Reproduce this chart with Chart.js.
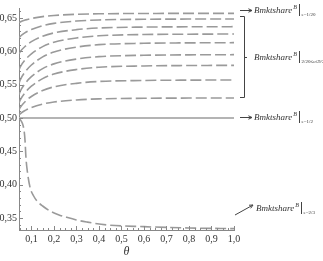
<!DOCTYPE html>
<html>
<head>
<meta charset="utf-8">
<script src="https://cdn.jsdelivr.net/npm/chart.js@4/dist/chart.umd.min.js"></script>
<style>
  html, body { margin: 0; padding: 0; background: #fff; }
  #wrap { width: 323px; height: 261px; }
</style>
</head>
<body>
<div id="wrap"><canvas id="c"></canvas></div>
<script>
const thetas = [0.045, 0.05, 0.075, 0.1, 0.15, 0.2, 0.3, 0.4, 0.6, 0.8, 1.0];

// upper family, e from 1/20 (top) down to 9/20
const curveE1 = [0.643, 0.6441, 0.6472, 0.6493, 0.6521, 0.6538, 0.6555, 0.6563, 0.6568, 0.6569, 0.657];
const curveE2 = [0.620, 0.6223, 0.6286, 0.6328, 0.6385, 0.6419, 0.6454, 0.6471, 0.6481, 0.6484, 0.6485];
const curveE3 = [0.596, 0.5993, 0.6083, 0.6145, 0.6227, 0.6276, 0.6325, 0.635, 0.6364, 0.6368, 0.637];
const curveE4 = [0.572, 0.5763, 0.5882, 0.5963, 0.6071, 0.6136, 0.6201, 0.6233, 0.6252, 0.6257, 0.626];
const curveE5 = [0.552, 0.5569, 0.5703, 0.5795, 0.5917, 0.599, 0.6063, 0.61, 0.6121, 0.6127, 0.613];
const curveE6 = [0.535, 0.5398, 0.553, 0.562, 0.574, 0.5812, 0.5884, 0.592, 0.5941, 0.5947, 0.595];
const curveE7 = [0.522, 0.5266, 0.5391, 0.5477, 0.5591, 0.5659, 0.5727, 0.5762, 0.5781, 0.5787, 0.579];
const curveE8 = [0.512, 0.5156, 0.5255, 0.5323, 0.5413, 0.5467, 0.552, 0.5548, 0.5563, 0.5568, 0.557];
const curveE9 = [0.504, 0.5061, 0.5118, 0.5157, 0.5209, 0.524, 0.5271, 0.5287, 0.5296, 0.5299, 0.530];
const upperCurves = [curveE1, curveE2, curveE3, curveE4, curveE5, curveE6, curveE7, curveE8, curveE9];

// e = 1/2 flat line
const halfTheta = [0.045, 1.0];
const halfValues = [0.5, 0.5];

// lower curve
const lowTheta = [0.045, 0.06, 0.068, 0.072, 0.076, 0.082, 0.094, 0.11, 0.124, 0.15, 0.183, 0.22, 0.257, 0.3, 0.346, 0.435, 0.6, 0.8, 1.0];
const lowValues = [0.5, 0.492, 0.48, 0.465, 0.44, 0.42, 0.396, 0.383, 0.376, 0.368, 0.3605, 0.355, 0.351, 0.347, 0.344, 0.3396, 0.337, 0.335, 0.334];

const xTicks = [0.1, 0.2, 0.3, 0.4, 0.5, 0.6, 0.7, 0.8, 0.9, 1.0];
const yTicks = [0.35, 0.40, 0.45, 0.50, 0.55, 0.60, 0.65];

function toPoints(xs, ys) {
    return xs.map((x, i) => ({ x: x, y: ys[i] }));
}

const dashed = {
    borderColor: '#9a9a9a',
    borderWidth: 1.6,
    borderDash: [11, 4],
    pointRadius: 0,
    fill: false,
    cubicInterpolationMode: 'monotone'
};

const datasets = upperCurves.map((ys, i) => Object.assign({ label: 'e' + (i + 1), data: toPoints(thetas, ys) }, dashed));
datasets.push({ label: 'half', data: toPoints(halfTheta, halfValues), borderColor: '#b4b4b4', borderWidth: 2.2, pointRadius: 0, fill: false });
datasets.push(Object.assign({ label: 'low', data: toPoints(lowTheta, lowValues) }, dashed));

const serif = '"Liberation Serif", "DejaVu Serif", serif';

// minor ticks and the right-hand notes
const extras = {
    id: 'extras',
    afterDraw(chart) {
        const ctx = chart.ctx;
        const xs = chart.scales.x, ys = chart.scales.y;
        const area = chart.chartArea;
        ctx.save();
        ctx.strokeStyle = '#888';
        ctx.lineWidth = 1;
        for (let v = 0.34; v <= 0.661; v += 0.01) {
            const py = Math.round(ys.getPixelForValue(v)) + 0.5;
            const major = Math.abs(v * 20 - Math.round(v * 20)) < 1e-6;
            ctx.beginPath();
            ctx.moveTo(area.left, py);
            ctx.lineTo(area.left + (major ? 4 : 2), py);
            ctx.stroke();
        }
        for (let v = 0.05; v <= 1.001; v += 0.025) {
            const px = Math.round(xs.getPixelForValue(v)) + 0.5;
            const major = Math.abs(v * 10 - Math.round(v * 10)) < 1e-6;
            ctx.beginPath();
            ctx.moveTo(px, area.bottom);
            ctx.lineTo(px, area.bottom - (major ? 4 : 2));
            ctx.stroke();
        }

        ctx.strokeStyle = '#444';
        ctx.fillStyle = '#333';
        function arrow(x1, y1, x2, y2) {
            ctx.beginPath();
            ctx.moveTo(x1, y1);
            ctx.lineTo(x2, y2);
            const a = Math.atan2(y2 - y1, x2 - x1);
            ctx.moveTo(x2 - 4 * Math.cos(a - 0.45), y2 - 4 * Math.sin(a - 0.45));
            ctx.lineTo(x2, y2);
            ctx.lineTo(x2 - 4 * Math.cos(a + 0.45), y2 - 4 * Math.sin(a + 0.45));
            ctx.stroke();
        }
        function note(x, y, sub) {
            ctx.font = 'italic 9px ' + serif;
            ctx.textBaseline = 'alphabetic';
            ctx.textAlign = 'left';
            ctx.fillText('Bmktshare', x, y);
            const w = ctx.measureText('Bmktshare').width;
            ctx.font = 'italic 6px ' + serif;
            ctx.fillText('B', x + w + 1, y - 4);
            const bx = Math.round(x + w + 7) + 0.5;
            ctx.beginPath();
            ctx.moveTo(bx, y - 9);
            ctx.lineTo(bx, y + 3);
            ctx.stroke();
            ctx.font = '5px ' + serif;
            ctx.fillText(sub, bx + 2, y + 3);
        }
        arrow(240, 10.5, 252, 10.5);
        note(254, 13, 'e=1/20');

        ctx.beginPath();
        ctx.moveTo(240, 16.5); ctx.lineTo(244.5, 16.5); ctx.lineTo(244.5, 97.5); ctx.lineTo(240, 97.5);
        ctx.moveTo(244.5, 57.5); ctx.lineTo(247, 57.5);
        ctx.stroke();
        note(254, 60, '2/20≤e≤9/20');

        arrow(240, 117.5, 252, 117.5);
        note(254, 120, 'e=1/2');

        arrow(235, 215, 253, 205);
        note(256, 211, 'e=2/3');
        ctx.restore();
    }
};

const ctx = document.getElementById('c').getContext('2d');
const chart = new Chart(ctx, {
    type: 'line',
    data: { datasets: datasets },
    options: {
        responsive: true,
        maintainAspectRatio: false,
        animation: false,
        layout: { padding: { top: 5, right: 89, left: 0, bottom: 0 } },
        plugins: { legend: { display: false }, tooltip: { enabled: false } },
        scales: {
            x: {
                type: 'linear',
                min: 0.045,
                max: 1.0,
                afterBuildTicks: s => { s.ticks = xTicks.map(v => ({ value: v })); },
                afterFit: s => { s.height = 31; },
                grid: { display: false, drawTicks: false },
                border: { color: '#888', width: 1 },
                ticks: {
                    color: '#333',
                    font: { family: serif, size: 10 },
                    padding: 3,
                    maxRotation: 0,
                    autoSkip: false,
                    callback: v => v.toFixed(1).replace('.', ',')
                },
                title: {
                    display: true,
                    text: 'θ',
                    color: '#333',
                    font: { family: serif, size: 12, style: 'italic' },
                    padding: { top: 0, bottom: 2 }
                }
            },
            y: {
                min: 0.332,
                max: 0.665,
                afterBuildTicks: s => { s.ticks = yTicks.map(v => ({ value: v })); },
                afterFit: s => { s.width = 19; },
                grid: { display: false, drawTicks: false },
                border: { color: '#888', width: 1 },
                ticks: {
                    color: '#333',
                    font: { family: serif, size: 10 },
                    padding: 2,
                    autoSkip: false,
                    callback: v => v.toFixed(2).replace('.', ',')
                }
            }
        }
    },
    plugins: [extras]
});
</script>
</body>
</html>
